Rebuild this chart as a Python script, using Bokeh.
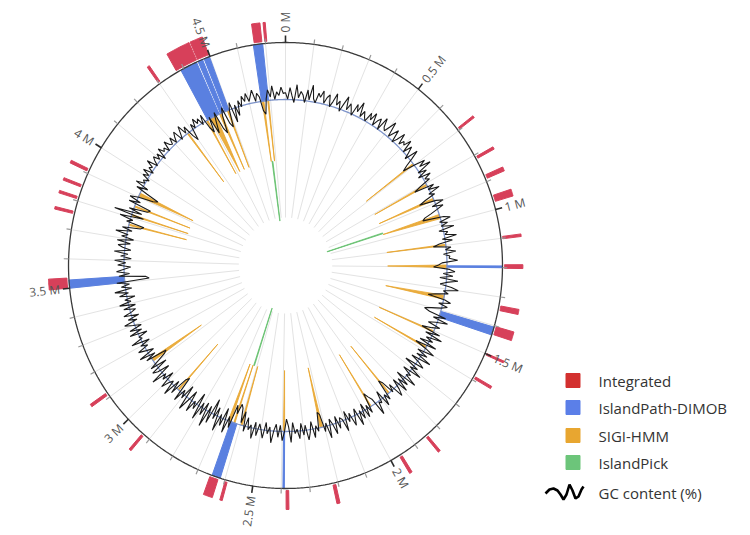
import numpy as np
from bokeh.plotting import figure
from bokeh.models import Range1d
from bokeh.embed import file_html
from bokeh.resources import INLINE
from bokeh.core.properties import value

# ---------------- data ----------------
GENOME_MB = 4.77
major_ticks_mb = [0.0, 0.5, 1.0, 1.5, 2.0, 2.5, 3.0, 3.5, 4.0, 4.5]
major_tick_labels = ["0 M", "0.5 M", "1 M", "1.5 M", "2 M", "2.5 M", "3 M", "3.5 M", "4 M", "4.5 M"]
minor_tick_step_mb = 0.1

integrated_start = [0.691, 0.807, 0.877, 0.951, 1.094, 1.190, 1.330, 1.402, 1.498, 1.586,
                    1.846, 1.958, 2.209, 2.374, 2.590, 2.623, 2.923, 3.109, 3.501, 3.755,
                    3.807, 3.849, 3.907, 4.298, 4.373, 4.456, 4.661, 4.698]
integrated_end = [0.698, 0.815, 0.890, 0.973, 1.102, 1.202, 1.346, 1.430, 1.504, 1.594,
                  1.854, 1.967, 2.219, 2.383, 2.598, 2.653, 2.931, 3.118, 3.535, 3.763,
                  3.815, 3.857, 3.916, 4.306, 4.452, 4.498, 4.688, 4.705]

dimob_start = [1.194, 1.405, 2.389, 2.617, 3.500, 4.388, 4.455, 4.478, 4.657]
dimob_end = [1.200, 1.433, 2.394, 2.647, 3.528, 4.449, 4.472, 4.498, 4.690]

sigi_start = [0.690, 0.804, 0.876, 0.955, 1.095, 1.190, 1.330, 1.500, 1.580, 1.855,
              1.960, 2.209, 2.389, 2.591, 2.627, 2.648, 2.932, 3.112, 3.763, 3.809,
              3.851, 3.904, 4.274, 4.382, 4.404, 4.450, 4.490, 4.660, 4.686]
sigi_end = [0.696, 0.811, 0.886, 0.975, 1.101, 1.202, 1.348, 1.506, 1.587, 1.861,
            1.966, 2.221, 2.395, 2.597, 2.633, 2.660, 2.938, 3.127, 3.769, 3.815,
            3.857, 3.920, 4.280, 4.388, 4.432, 4.460, 4.496, 4.668, 4.691]

pick_start = [0.953, 2.619, 4.670]
pick_end = [0.959, 2.625, 4.676]

gc_step_mb = 0.01
gc_content = [
    53.8, 52.4, 54.9, 53.1, 51.7, 55.6, 52.8, 54.2, 53.5, 51.9, 54.7, 52.6, 55.9, 53.0, 52.2, 54.4, 53.6, 55.1, 52.5, 53.9,
    54.6, 52.1, 53.4, 55.3, 52.9, 54.0, 51.8, 53.7, 55.5, 52.7, 54.3, 53.2, 52.0, 54.8, 53.3, 55.7, 52.6, 54.1, 53.0, 52.3,
    54.5, 53.1, 55.0, 52.4, 53.8, 54.6, 52.2, 55.4, 53.5, 52.9, 54.2, 55.8, 52.5, 53.7, 54.9, 52.1, 53.3, 55.2, 52.8, 54.0,
    53.4, 55.1, 52.3, 54.4, 53.0, 51.6, 54.7, 52.8, 50.9, 49.6, 52.4, 54.8, 53.1, 55.6, 52.0, 53.9, 51.5, 54.3, 52.6, 53.5,
    50.8, 49.2, 53.7, 52.1, 54.6, 51.8, 53.0, 50.5, 48.9, 52.7, 54.2, 51.4, 53.8, 52.2, 50.6, 49.0, 48.4, 53.1, 54.5, 51.9,
    53.6, 52.0, 54.8, 51.3, 53.2, 52.5, 55.0, 51.7, 53.9, 50.9, 49.5, 53.4, 52.1, 54.4, 51.6, 53.0, 52.8, 54.7, 51.2, 50.4,
    49.3, 52.9, 54.1, 51.5, 53.7, 50.8, 54.9, 52.3, 51.0, 53.6, 55.2, 51.9, 53.1, 50.3, 48.7, 52.6, 54.0, 51.4, 53.5, 52.2,
    50.1, 48.6, 49.9, 53.8, 51.1, 54.6, 52.0, 50.4, 53.3, 51.6, 49.4, 53.9, 50.7, 54.8, 51.3, 53.1, 50.2, 54.4, 49.6, 52.5,
    54.7, 50.9, 53.6, 51.2, 55.0, 50.5, 52.8, 54.2, 49.8, 53.4, 51.7, 54.9, 50.6, 53.0, 52.1, 55.1, 50.3, 53.8, 51.4, 54.5,
    50.8, 53.2, 54.6, 51.0, 52.7, 49.7, 48.8, 53.5, 51.9, 54.3, 50.4, 53.0, 52.5, 55.2, 51.1, 50.2, 49.1, 53.6, 51.5, 54.1,
    50.7, 53.9, 51.8, 55.0, 50.9, 52.6, 54.4, 51.3, 53.1, 50.5, 54.8, 52.0, 51.4, 53.7, 50.8, 54.6, 52.3, 51.0, 55.1, 51.6,
    53.4, 49.5, 48.9, 53.0, 51.7, 54.2, 50.6, 52.9, 54.5, 51.2, 53.3, 50.7, 54.0, 51.9, 52.8, 50.4, 54.7, 51.3, 49.6, 52.4,
    54.3, 51.0, 53.6, 50.8, 52.2, 54.9, 51.5, 53.0, 50.6, 54.1, 52.4, 51.1, 53.8, 50.9, 54.6, 51.7, 52.9, 50.3, 53.5, 49.2,
    51.8, 48.7, 47.9, 50.2, 48.4, 53.7, 51.3, 55.2, 49.8, 54.0, 51.6, 55.6, 50.4, 53.3, 48.9, 54.7, 51.0, 56.0, 50.7, 53.9,
    51.2, 55.4, 49.5, 53.6, 51.9, 54.8, 50.1, 52.7, 55.3, 49.7, 53.2, 51.4, 54.5, 48.8, 49.6, 53.8, 50.9, 55.0, 51.7, 52.6,
    54.4, 50.5, 53.1, 51.8, 55.2, 50.2, 52.9, 54.0, 49.9, 53.7, 51.3, 49.4, 48.6, 53.5, 51.0, 54.6, 50.8, 52.4, 54.1, 51.5,
    53.0, 50.6, 54.7, 51.9, 52.5, 50.3, 54.2, 51.2, 53.8, 50.9, 52.7, 54.5, 51.4, 53.3, 50.7, 54.0, 52.1, 51.0, 53.6, 50.8,
    54.3, 51.6, 52.9, 50.5, 53.9, 51.8, 54.8, 50.9, 53.2, 51.3, 54.1, 46.8, 47.5, 53.5, 51.1, 54.0, 52.3, 50.8, 53.7, 51.9,
    54.4, 50.7, 53.1, 51.5, 54.6, 50.9, 52.8, 53.9, 51.2, 54.2, 50.6, 53.4, 52.0, 54.9, 51.3, 53.6, 49.6, 48.9, 53.0, 51.7,
    54.8, 49.5, 56.4, 50.2, 53.3, 49.2, 48.6, 53.9, 51.4, 54.1, 52.2, 48.9, 47.9, 50.8, 53.6, 51.1, 54.3, 52.4, 53.0, 51.8,
    53.7, 52.5, 54.2, 51.9, 53.4, 52.8, 54.6, 52.1, 53.2, 54.0, 52.6, 53.8, 51.7, 54.3, 52.9, 53.5, 52.2, 54.4, 53.1, 52.7,
    54.1, 52.4, 53.6, 54.5, 52.0, 53.3, 54.8, 52.6, 53.9, 51.2, 49.8, 53.5, 52.3, 54.2, 52.8, 53.7, 51.9, 54.0, 50.6, 49.3,
    52.7, 48.6, 50.9, 53.1, 49.0, 47.8, 51.6, 53.4, 49.5, 48.5, 52.2, 53.8, 49.2, 52.9, 50.4, 53.6, 52.1, 54.3, 53.0, 54.7,
    52.8, 53.9, 55.1, 52.5, 54.2, 53.3, 50.2, 49.4, 52.7, 54.6, 53.0, 55.4, 52.4, 54.0, 53.2, 55.0, 53.6,
]
gc_baseline = 52.3

legend_labels = ["Integrated", "IslandPath-DIMOB", "SIGI-HMM", "IslandPick"]
gc_label = "GC content (%)"

# ---------------- styling / geometry ----------------
SX = 0.973             # horizontal pixels per unit
CX, CY = 285.0, 265.0  # screenshot position of the centre
OFF = 0.0              # canvas origin in screenshot coords
W, H = 750, 535
R_OUT, R_RING, R_SIGI, R_PICK, R_SPOKE = 223.0, 166.0, 105.0, 45.0, 48.0
GC_SCALE = 4.6

C_RED = "#d7405a"
C_BLUE = "#5a80e0"
C_ORANGE = "#e8a52c"
C_GREEN = "#66c06f"
LEG_COLORS = ["#d3302f", "#5b7fe8", "#e8a630", "#6cc57a"]
FONT = value("Open Sans")


def theta(mb):
    return 2 * np.pi * np.asarray(mb, dtype=float) / GENOME_MB


def pol(mb, r):
    t = theta(mb)
    return r * np.sin(t), r * np.cos(t)


def page(px, py):
    return (px - CX) / SX, CY - py


def band(s, e, r0, r1, min_w=0.004):
    if e - s < min_w:
        m = (s + e) / 2
        s, e = m - min_w / 2, m + min_w / 2
    n = max(2, int((e - s) / 0.004) + 2)
    a = np.linspace(s, e, n)
    xo, yo = pol(a, r1)
    xi, yi = pol(a[::-1], r0)
    return list(np.concatenate([xo, xi])), list(np.concatenate([yo, yi]))


def spike(s, e, r_tip, r_base, min_w=0.004):
    if e - s < min_w:
        m = (s + e) / 2
        s, e = m - min_w / 2, m + min_w / 2
    n = max(2, int((e - s) / 0.004) + 2)
    a = np.linspace(s, e, n)
    xo, yo = pol(a, r_base)
    xt, yt = pol((s + e) / 2, r_tip)
    return list(xo) + [float(xt)], list(yo) + [float(yt)]


x0 = (OFF - CX) / SX
x1 = (OFF + W - CX) / SX
p = figure(width=W, height=H, x_range=Range1d(x0, x1), y_range=Range1d(CY - OFF - H, CY - OFF),
           output_backend="svg", toolbar_location=None, min_border=0,
           x_axis_type=None, y_axis_type=None)
p.grid.visible = False
p.outline_line_color = None
p.background_fill_color = "white"

# spokes
spk = np.arange(0, GENOME_MB, minor_tick_step_mb)
sx0, sy0 = pol(spk, R_SPOKE)
sx1, sy1 = pol(spk, R_OUT)
p.segment(sx0, sy0, sx1, sy1, line_color="#e3e3e3", line_width=1)

# SIGI-HMM spikes
xs, ys = [], []
for s, e in zip(sigi_start, sigi_end):
    a, b = spike(s, e, R_SIGI, R_RING)
    xs.append(a); ys.append(b)
p.patches(xs, ys, fill_color=C_ORANGE, fill_alpha=0.9, line_color=C_ORANGE, line_width=1, line_alpha=0.8)

# IslandPick lines
xs, ys = [], []
for s, e in zip(pick_start, pick_end):
    a, b = band(s, e, R_PICK, R_SIGI, min_w=0.002)
    xs.append(a); ys.append(b)
p.patches(xs, ys, fill_color=C_GREEN, line_color=C_GREEN, line_width=0.8)

# DIMOB bars
xs, ys = [], []
for s, e in zip(dimob_start, dimob_end):
    a, b = band(s, e, R_RING, R_OUT)
    xs.append(a); ys.append(b)
p.patches(xs, ys, fill_color=C_BLUE, line_color=C_BLUE, line_width=1)

# ring circle
circ = np.linspace(0, GENOME_MB, 721)
cx_, cy_ = pol(circ, R_RING)
p.line(cx_, cy_, line_color="#7d93c9", line_width=1.3)

# GC content line
gpos = np.arange(len(gc_content)) * gc_step_mb
gvals = np.array(gc_content)
gpos = np.append(gpos, GENOME_MB)
gvals = np.append(gvals, gvals[0])
gr = R_RING + (gvals - gc_baseline) * GC_SCALE
gx, gy = pol(gpos, 1.0)
p.line(gx * gr, gy * gr, line_color="#1a1a1a", line_width=1.1)

# outer circle
ox, oy = pol(circ, R_OUT)
p.line(ox, oy, line_color="#3a3a3a", line_width=1.3)

# Integrated bars
xs, ys = [], []
for s, e in zip(integrated_start, integrated_end):
    a, b = band(s, e, R_OUT + 2, R_OUT + 21)
    xs.append(a); ys.append(b)
p.patches(xs, ys, fill_color=C_RED, line_color=C_RED, line_width=1)

# ticks
minor = [m for m in np.arange(0, GENOME_MB, minor_tick_step_mb)
         if min(abs(m - t) for t in major_ticks_mb) > 1e-6]
mx0, my0 = pol(minor, R_OUT)
mx1, my1 = pol(minor, R_OUT + 5)
p.segment(mx0, my0, mx1, my1, line_color="#9a9a9a", line_width=1.2)
Mx0, My0 = pol(major_ticks_mb, R_OUT)
Mx1, My1 = pol(major_ticks_mb, R_OUT + 7)
p.segment(Mx0, My0, Mx1, My1, line_color="#2a2a2a", line_width=1.6)

# tick labels
right = [i for i, t in enumerate(major_ticks_mb) if theta(t) < np.pi - 1e-9]
left = [i for i, t in enumerate(major_ticks_mb) if theta(t) >= np.pi - 1e-9]
for idx, align, flip in ((right, "left", 0.0), (left, "right", np.pi)):
    tm = [major_ticks_mb[i] for i in idx]
    lx, ly = pol(tm, R_OUT + 10)
    ang = [np.pi / 2 - float(theta(t)) + flip for t in tm]
    p.text(x=list(lx), y=list(ly), text=[major_tick_labels[i] for i in idx], angle=ang,
           text_align=align, text_baseline="middle", text_font=FONT,
           text_font_size="12px", text_color="#555555")

# legend
leg_py = [380, 407, 435, 462]
for lab, col, py in zip(legend_labels, LEG_COLORS, leg_py):
    qx, qy = page(572.5, py)
    p.scatter([qx], [qy], marker="square", size=14, fill_color=col, line_color=col)
    tx, ty = page(598, py)
    p.text(x=[tx], y=[ty], text=[lab], text_align="left", text_baseline="middle",
           text_font=FONT, text_font_size="15px", text_color="#333333")

sq_px = [545, 549, 553, 557, 560, 563, 566, 569, 572, 575, 578, 581, 583]
sq_py = [493, 489, 488, 490, 494, 499, 494, 484, 490, 498, 496, 489, 486]
sqx = [(v - CX) / SX for v in sq_px]
sqy = [CY - v for v in sq_py]
p.line(sqx, sqy, line_color="black", line_width=2.6)
tx, ty = page(598, 492)
p.text(x=[tx], y=[ty], text=[gc_label], text_align="left", text_baseline="middle",
       text_font=FONT, text_font_size="15px", text_color="#333333")

open("out.html", "w").write(file_html(p, INLINE))
